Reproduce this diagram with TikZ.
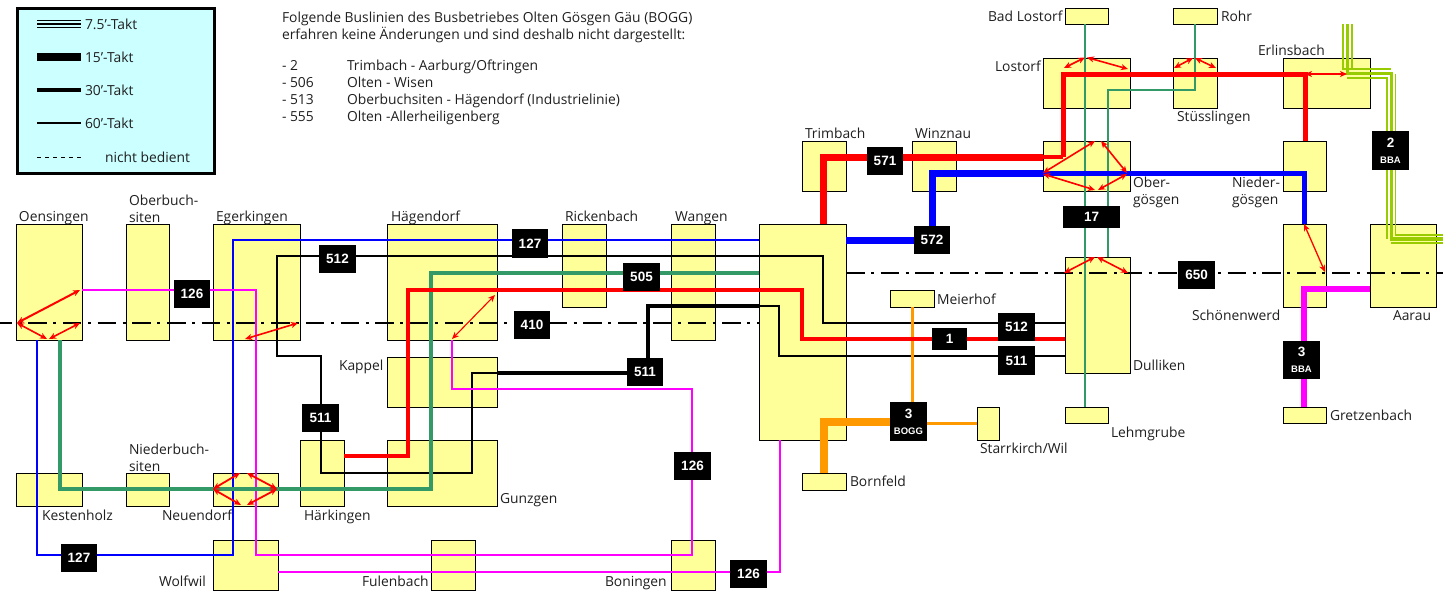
\documentclass[tikz,border=0pt]{standalone}
\usepackage{fontspec}
\setmainfont{Open Sans}
\newfontfamily\tagfont{Liberation Sans}[BoldFont={Liberation Sans Bold}]
\usetikzlibrary{arrows.meta}
\definecolor{stfill}{HTML}{FFFF99}
\definecolor{legfill}{HTML}{CCFFFF}
\definecolor{linegreen}{HTML}{339966}
\definecolor{lineblue}{HTML}{0000FF}
\definecolor{linemag}{HTML}{FF00FF}
\definecolor{lineorange}{HTML}{FF9900}
\definecolor{linelime}{HTML}{99CC00}
\tikzset{
  station/.style={draw=black,line width=1,fill=stfill,inner sep=0,outer sep=0},
  lab/.style={inner sep=0,outer sep=0,anchor=base west,font=\fontsize{13.85}{17}\selectfont,text=black!88},
  mlab/.style={inner sep=0,outer sep=0,anchor=west,align=left,font=\fontsize{13.85}{17}\selectfont,text=black!88},
  tagbox/.style={fill=black,text=white,inner sep=0,outer sep=0,align=center,font=\tagfont\bfseries\fontsize{13.5}{15}\selectfont},
  dblarrow/.style={red,{Stealth[length=7,width=6,inset=2]}-{Stealth[length=7,width=6,inset=2]}},
  dashdot/.style={black,line width=2,dash pattern=on 18.5 off 6.5 on 3 off 6.7},
  thinl/.style={line width=1.1},
}
\newcommand\station[5]{\node[station,minimum width={(#4-#2)*1pt},minimum height={(#5-#3)*1pt}] (#1) at ({(#2+#4)/2},{(#3+#5)/2}) {};}
\newcommand\lab[4]{\node[lab] (#1) at (#2,#3+5.5) {#4};}
\newcommand\mlab[4]{\node[mlab] (#1) at (#2,#3+1) {#4};}
\newcommand\tagb[6]{\node[tagbox,minimum width={(#4-#2)*1pt},minimum height={(#5-#3)*1pt}] (#1) at ({(#2+#4)/2},{(#3+#5)/2}) {#6};}
\newcommand\dbl[4]{\coordinate (#1a) at (#2); \coordinate (#1b) at (#3); \draw[dblarrow,line width=#4] (#1a) -- (#1b);}
\newcommand\seg[4]{\coordinate (#1a) at (#2); \coordinate (#1b) at (#3); \draw[#4] (#1a) -- (#1b);}
\newcommand\subl[1]{{\fontsize{9.5}{10}\selectfont #1}}
\begin{document}
\begin{tikzpicture}[x=1pt,y=-1pt]
\useasboundingbox (0,0) rectangle (1443,592);
% legend
\node[draw=black,line width=3,fill=legfill,inner sep=0,minimum width=197,minimum height=165] (legend) at (115.5,91) {};
\seg{la}{37,20.5}{81,20.5}{black,line width=1.3}
\seg{lb}{37,24}{81,24}{black,line width=2.4}
\seg{lc}{37,27.5}{81,27.5}{black,line width=1.3}
\seg{ld}{37,57}{81,57}{black,line width=8}
\seg{le}{37,90}{81,90}{black,line width=4.5}
\seg{lf}{37,123}{81,123}{black,line width=1.3}
\seg{lg}{37,157}{81,157}{black,line width=0.8,dash pattern=on 4 off 4}
\lab{tla}{85}{24}{7.5'-Takt}
\lab{tlb}{85}{57}{15'-Takt}
\lab{tlc}{85}{90}{30'-Takt}
\lab{tld}{85}{123}{60'-Takt}
\lab{tle}{105}{157}{nicht bedient}
% note
\lab{n1}{282}{17}{Folgende Buslinien des Busbetriebes Olten Gösgen Gäu (BOGG)}
\lab{n2}{282}{34}{erfahren keine Änderungen und sind deshalb nicht dargestellt:}
\lab{n3}{282}{65}{- 2}\lab{n3b}{347}{65}{Trimbach - Aarburg/Oftringen}
\lab{n4}{282}{82}{- 506}\lab{n4b}{347}{82}{Olten - Wisen}
\lab{n5}{282}{99}{- 513}\lab{n5b}{347}{99}{Oberbuchsiten - Hägendorf (Industrielinie)}
\lab{n6}{282}{116}{- 555}\lab{n6b}{347}{116}{Olten -Allerheiligenberg}
% stations
\station{oens}{16}{224}{82}{340}
\station{oberb}{126}{224}{169}{340}
\station{eger}{213}{224}{300}{340}
\station{haeg}{387}{224}{497}{340}
\station{rick}{562}{224}{606}{307}
\station{wang}{671}{224}{715}{340}
\station{olten}{759}{224}{846}{440}
\station{kappel}{387}{357}{497}{407}
\station{gunz}{387}{440}{497}{506}
\station{haerk}{300}{440}{344}{506}
\station{kest}{16}{473}{82}{506}
\station{niederb}{126}{473}{169}{506}
\station{neu}{213}{473}{278}{506}
\station{wolf}{213}{540}{278}{590}
\station{fule}{431}{540}{475}{590}
\station{boni}{671}{540}{715}{590}
\station{born}{802}{473}{846}{490}
\station{meier}{890}{290}{934}{307}
\station{starr}{977}{407}{999}{440}
\station{dull}{1065}{257}{1130}{373}
\station{lehm}{1065}{407}{1108}{423}
\station{schoen}{1283}{224}{1326}{307}
\station{aarau}{1370}{224}{1436}{307}
\station{gretz}{1283}{407}{1326}{423}
\station{trim}{802}{141}{846}{191}
\station{winz}{912}{141}{956}{191}
\station{oberg}{1043}{141}{1130}{191}
\station{lost}{1043}{58}{1130}{108}
\station{badl}{1065}{8}{1108}{24}
\station{rohr}{1173}{8}{1217}{24}
\station{stues}{1173}{58}{1217}{108}
\station{erl}{1283}{58}{1370}{108}
\station{niederg}{1283}{141}{1326}{191}
% station labels
\lab{toens}{19}{216}{Oensingen}
\mlab{toberb}{129}{207.5}{Oberbuch-\\siten}
\lab{teger}{216}{216}{Egerkingen}
\lab{thaeg}{391}{216}{Hägendorf}
\lab{trick}{565}{216}{Rickenbach}
\lab{twang}{675}{216}{Wangen}
\lab{tkappel}{339}{365}{Kappel}
\lab{tgunz}{500}{498}{Gunzgen}
\lab{thaerk}{304}{515}{Härkingen}
\lab{tkest}{42}{515}{Kestenholz}
\lab{tneu}{162}{515}{Neuendorf}
\mlab{tniederb}{129}{456.5}{Niederbuch-\\siten}
\lab{twolf}{159}{581}{Wolfwil}
\lab{tfule}{362}{581}{Fulenbach}
\lab{tboni}{605}{581}{Boningen}
\lab{tborn}{850}{481}{Bornfeld}
\lab{tmeier}{937}{299}{Meierhof}
\lab{tstarr}{980}{448}{Starrkirch/Wil}
\lab{tlehm}{1111}{432}{Lehmgrube}
\lab{tdull}{1133}{365}{Dulliken}
\lab{tschoen}{1192}{315}{Schönenwerd}
\lab{taarau}{1393}{315}{Aarau}
\lab{tgretz}{1330}{415}{Gretzenbach}
\lab{ttrim}{805}{133}{Trimbach}
\lab{twinz}{915}{133}{Winznau}
\mlab{toberg}{1133}{191}{Ober-\\gösgen}
\mlab{tniederg}{1232}{191}{Nieder-\\gösgen}
\lab{tlost}{995}{66}{Lostorf}
\lab{tbadl}{988}{16}{Bad Lostorf}
\lab{trohr}{1221}{16}{Rohr}
\lab{tstues}{1177}{116}{Stüsslingen}
\lab{terl}{1258}{50}{Erlinsbach}
% dash-dot railway lines
\coordinate (railw) at (0,323);
\draw[dashdot,dash phase=6.5] (railw) -- (olten.west |- railw);
\coordinate (raile) at (1443,273);
\draw[dashdot] (olten.east |- raile) -- (raile);
% thin green 17
\draw[linegreen,line width=1.2] (1085,0 |- badl.south) -- (1085,0 |- lehm.north);
\draw[linegreen,line width=1.2] (1108,0 |- dull.north) -- (1108,90) -- (1195,90) -- (1195,0 |- rohr.south);
% blue 127
\draw[lineblue,thinl] (37,0 |- oens.south) -- (37,555) -- (233,555) -- (233,240) -- (olten.west |- 0,240);
% black 511/512
\draw[black,thinl] (dull.west |- 0,323) -- (823,323) -- (823,256) -- (277,256) -- (277,356) -- (321,356) -- (321,473) -- (472,473) -- (472,373) -- (kappel.east |- 0,373);
\draw[black,line width=4] (kappel.east |- 0,373) -- (648,373) -- (648,306) -- (olten.west |- 0,306);
\draw[black,thinl] (olten.west |- 0,306) -- (779,306) -- (779,356) -- (dull.west |- 0,356);
% magenta 126
\draw[linemag,thinl] (oens.east |- 0,290) -- (256,290) -- (256,555) -- (692,555) -- (692,389) -- (452,389) -- (452,0 |- haeg.south);
\draw[linemag,thinl] (wolf.east |- 0,572) -- (780,572) -- (780,0 |- olten.south);
% orange 3 BOGG
\draw[lineorange,line width=3] (912,0 |- meier.south) -- (912,422);
\draw[lineorange,line width=3] (starr.west |- 0,423) -- (912,423);
\draw[lineorange,line width=8] (912,422) -- (824,422) -- (824,0 |- born.north);
% green 505
\draw[linegreen,line width=4] (olten.west |- 0,273) -- (431,273) -- (431,489) -- (60,489) -- (60,0 |- oens.south);
% red
\draw[red,line width=4] (haerk.east |- 0,456) -- (408,456) -- (408,290) -- (802,290) -- (802,339) -- (dull.west |- 0,339);
\draw[red,line width=7] (823,0 |- olten.north) -- (823,157) -- (oberg.west |- 0,157);
\draw[red,line width=4] (oberg.west |- 0,157) -- (1063,157);
\draw[red,line width=5] (1063,157) -- (1063,74) -- (1305,74) -- (1305,0 |- niederg.north);
% blue 572
\draw[lineblue,line width=7] (olten.east |- 0,240) -- (932,240) -- (932,173) -- (oberg.west |- 0,173);
\draw[lineblue,line width=5] (oberg.west |- 0,173) -- (1304,173) -- (1304,0 |- schoen.north);
% magenta 3 BBA
\draw[linemag,line width=6] (aarau.west |- 0,289) -- (1304,289) -- (1304,0 |- gretz.north);
% lime 2 BBA
\draw[linelime,line width=1.8] (1343,24) -- (1343,69) -- (1391,69);
\draw[linelime,line width=1.8] (1352,24) -- (1352,69);
\draw[linelime,line width=3.5] (1347.5,24) -- (1347.5,73.5) -- (1391.5,73.5) -- (1391.5,239) -- (1443,239);
\draw[linelime,line width=1.8] (1347,78) -- (1387,78) -- (1387,239);
\draw[linelime,line width=1.8] (1395.5,74) -- (1395.5,235) -- (1443,235);
\draw[linelime,line width=1.8] (1391,243) -- (1443,243);
% red double arrows
\dbl{a1}{80,290}{17,323}{2}
\dbl{a2}{17,323}{47,339}{1.6}
\dbl{a3}{49,339}{80,323}{1.6}
\dbl{a4}{245,339}{298,323}{1.6}
\dbl{a5}{213,489}{240,473}{1.8}
\dbl{a6}{213,489}{241,505}{1.8}
\dbl{a7}{247,473}{277,489}{1.8}
\dbl{a8}{247,505}{277,489}{1.8}
\dbl{a9}{452,339}{495,295}{1.1}
\dbl{a10}{1064,68}{1085,57.5}{1.6}
\dbl{a11}{1087,57.5}{1128,69}{1.6}
\dbl{a12}{1174,68}{1193,58}{1.6}
\dbl{a13}{1195,58}{1216,68}{1.6}
\dbl{a14}{1305,74}{1347,74}{1.1}
\dbl{a15}{1043,173}{1095,141}{1.6}
\dbl{a16}{1043,174}{1095,190}{1.6}
\dbl{a17}{1098,190}{1127,174}{1.6}
\dbl{a18}{1101,141}{1127,173}{1.6}
\dbl{a19}{1064,273}{1095,257}{1.6}
\dbl{a20}{1097,257}{1128,273}{1.6}
\dbl{a21}{1304,224}{1325,272}{1.3}
% line tags
\tagb{t126a}{174}{280}{210}{308}{126}
\tagb{t512a}{319}{245}{356}{273}{512}
\tagb{t511a}{302}{404}{339}{432}{511}
\tagb{t127a}{61}{544}{97}{572}{127}
\tagb{t127b}{512}{229}{548}{258}{127}
\tagb{t505}{623}{263}{660}{291}{505}
\tagb{t410}{514}{311}{550}{339}{410}
\tagb{t511b}{627}{358}{663}{386}{511}
\tagb{t126b}{674}{452}{711}{480}{126}
\tagb{t126c}{730}{560}{767}{588}{126}
\tagb{t512b}{998}{313}{1035}{341}{512}
\tagb{t1}{932}{328}{967}{350}{1}
\tagb{t511c}{998}{346}{1035}{375}{511}
\tagb{t650}{1178}{261}{1215}{289}{650}
\tagb{t572}{914}{226}{950}{254}{572}
\tagb{t571}{867}{147}{903}{175}{571}
\tagb{t17}{1063}{206}{1120}{228}{17}
\tagb{t2bba}{1372}{131}{1409}{170}{2\\[1pt]\subl{BBA}}
\tagb{t3bba}{1283}{341}{1320}{379}{3\\[1pt]\subl{BBA}}
\tagb{t3bogg}{890}{402}{927}{441}{3\\[1pt]\subl{BOGG}}
\end{tikzpicture}
\end{document}
